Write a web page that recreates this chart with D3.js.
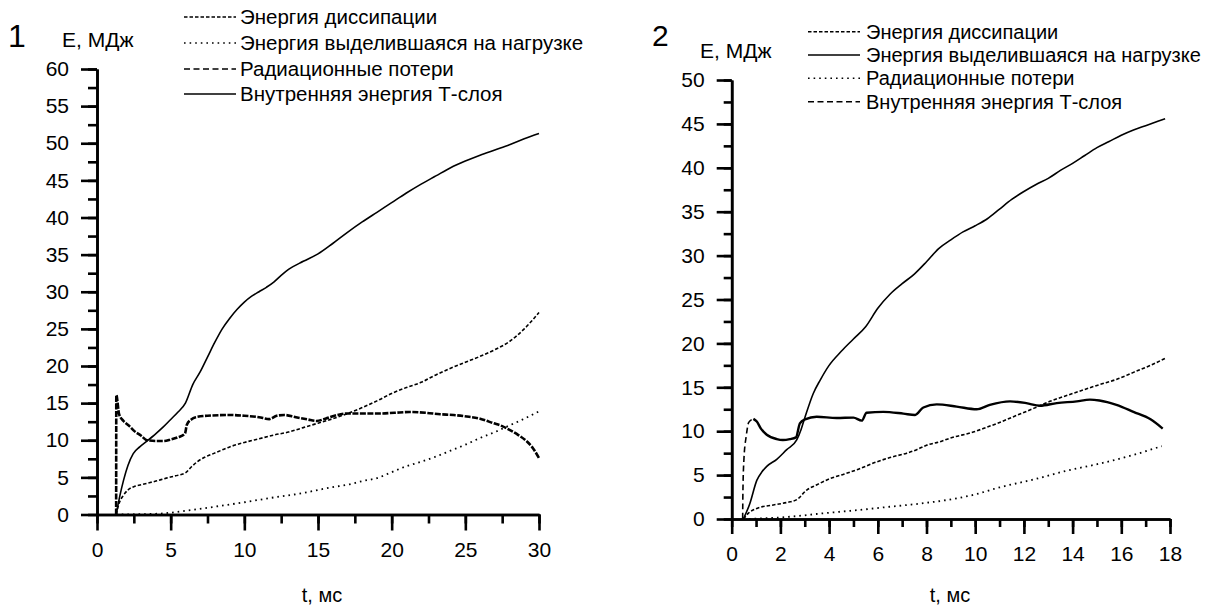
<!DOCTYPE html>
<html>
<head>
<meta charset="utf-8">
<script src="https://cdn.jsdelivr.net/npm/d3@7"></script>
<style>
  body { margin: 0; background: #fff; }
  svg { display: block; }
  text { font-family: "Liberation Sans", Arial, sans-serif; fill: #000; }
  .axis path, .axis line { stroke: #000; stroke-width: 2.6; }
  .axis text { font-size: 21px; }
</style>
</head>
<body>
<svg width="1210" height="608"></svg>
<script>
'use strict';

// ---- chart 1 data: [t, E] pairs
var p1Dissipation = [[1.3,0],[1.5,1.5],[1.8,2.6],[2.1,3.3],[2.5,3.75],[3.0,4.0],[3.4,4.2],[4.0,4.5],[4.7,4.9],[5.3,5.2],[6.0,5.6],[6.4,6.4],[6.8,7.1],[7.3,7.7],[7.9,8.2],[8.5,8.7],[9.0,9.1],[10,9.7],[11,10.2],[12,10.7],[13,11.1],[14,11.7],[15,12.3],[16,12.9],[17,13.6],[18,14.4],[19,15.3],[20,16.3],[21,17.1],[22,17.8],[23,18.8],[24,19.7],[25,20.5],[26,21.3],[27,22.2],[28,23.3],[29,25.0],[30,27.2]];
var p1Load = [[1.3,0],[3,0.05],[4.5,0.15],[6,0.5],[8,1.05],[10,1.65],[12,2.3],[14,2.9],[15,3.3],[16,3.7],[17,4.0],[18,4.5],[19,4.9],[20,5.7],[21,6.5],[22,7.1],[23,7.8],[24,8.6],[25,9.4],[26,10.3],[27,11.1],[28,12.0],[29,12.9],[30,13.9]];
var p1Radiation = [[1.3,0],[1.31,16.1],[1.5,13.5],[1.8,12.6],[2.2,11.9],[2.5,11.3],[3.0,10.6],[3.4,10.0],[4.0,9.9],[4.5,9.9],[5.0,10.1],[5.5,10.4],[5.97,10.9],[6.1,12.1],[6.4,12.8],[6.7,13.1],[7.5,13.3],[9,13.4],[10,13.3],[11,13.1],[11.7,12.85],[12.2,13.3],[12.7,13.4],[13.5,13.1],[14.3,12.8],[14.9,12.6],[15.5,12.9],[16.3,13.4],[17,13.6],[18,13.6],[19.2,13.6],[20.2,13.7],[21.2,13.8],[22.3,13.7],[23.3,13.5],[24.2,13.4],[25.1,13.2],[26,12.9],[26.9,12.3],[27.5,11.9],[28,11.4],[28.6,10.7],[29.2,9.8],[29.6,8.9],[30,7.6]];
var p1Internal = [[1.3,0],[1.55,2.5],[1.8,4.6],[2.1,6.6],[2.46,8.2],[2.9,9.1],[3.4,9.9],[4.0,10.9],[4.5,11.8],[5.0,12.8],[5.5,13.8],[6.0,15.0],[6.5,17.5],[7.0,19.2],[7.5,21.2],[8.0,23.2],[8.5,25.0],[9.0,26.4],[9.5,27.6],[10,28.6],[10.5,29.4],[11,30.0],[11.5,30.6],[12,31.3],[12.5,32.2],[13,33.0],[14,34.1],[15,35.1],[16,36.5],[17,38.0],[18,39.4],[19,40.7],[20,42.0],[21,43.3],[22,44.5],[23,45.6],[24,46.7],[25,47.6],[26,48.4],[27,49.1],[28,49.8],[29,50.6],[30,51.3]];

// ---- chart 2 data
var p2Dissipation = [[0.48,0],[0.7,0.7],[1.03,1.2],[1.71,1.6],[2.3,1.9],[2.67,2.2],[3.08,3.3],[3.5,3.9],[4.04,4.6],[4.6,5.1],[5.13,5.6],[5.95,6.5],[6.5,7.0],[7.19,7.5],[7.6,7.9],[8.0,8.4],[8.55,8.8],[8.96,9.2],[9.92,9.9],[10.33,10.3],[11,11.0],[11.7,11.8],[12.4,12.6],[13.07,13.4],[13.8,14.1],[14.44,14.7],[15.1,15.3],[15.8,15.9],[16.5,16.7],[17.2,17.5],[17.8,18.3]];
var p2Load = [[0.48,0],[0.75,1.8],[1.03,4.4],[1.25,5.4],[1.44,6.0],[1.85,6.8],[2.26,7.9],[2.67,9.0],[2.85,10.2],[3.0,11.5],[3.35,14.3],[3.63,15.8],[4.0,17.5],[4.5,19.1],[5.0,20.5],[5.5,21.9],[6.0,24.0],[6.5,25.6],[7.0,26.8],[7.5,27.9],[8.0,29.3],[8.5,30.8],[9.0,31.8],[9.5,32.7],[10,33.4],[10.5,34.2],[11,35.3],[11.5,36.4],[12,37.3],[12.5,38.1],[13,38.8],[13.5,39.7],[14,40.5],[14.5,41.4],[15,42.3],[15.5,43.0],[16,43.7],[16.5,44.3],[17,44.8],[17.5,45.3],[17.8,45.6]];
var p2Radiation = [[0.48,0],[1.5,0.1],[2.4,0.26],[3.76,0.65],[5.13,1.0],[6.5,1.4],[7.87,1.8],[9.24,2.35],[10,2.8],[11,3.6],[12.4,4.5],[13.76,5.5],[15.1,6.3],[16.5,7.3],[17.66,8.3]];
var p2Internal = [[0.45,0],[0.46,3],[0.5,6.7],[0.6,9.5],[0.7,11.0],[0.89,11.4],[1.03,11.1],[1.2,10.3],[1.44,9.6],[1.85,9.1],[2.1,9.0],[2.39,9.1],[2.64,9.3],[2.8,10.9],[3.01,11.35],[3.49,11.65],[4.31,11.5],[5.0,11.55],[5.34,11.2],[5.54,12.1],[6.23,12.2],[7.05,12.0],[7.53,11.85],[7.87,12.7],[8.42,13.05],[9.24,12.8],[10.06,12.5],[10.6,13.0],[11.43,13.4],[12.1,13.2],[12.66,12.9],[13.35,13.2],[14.17,13.4],[14.71,13.6],[15.1,13.5],[15.8,13.0],[16.5,12.2],[17.2,11.35],[17.7,10.3]];

var legendLabels = ['Энергия диссипации', 'Энергия выделившаяся на нагрузке', 'Радиационные потери', 'Внутренняя энергия Т-слоя'];
var yTicks1 = [0, 5, 10, 15, 20, 25, 30, 35, 40, 45, 50, 55, 60];
var xTicks1 = [0, 5, 10, 15, 20, 25, 30];
var yTicks2 = [0, 5, 10, 15, 20, 25, 30, 35, 40, 45, 50];
var xTicks2 = [0, 2, 4, 6, 8, 10, 12, 14, 16, 18];

// line styles
var styles = {
  fine:   { dash: '3.5,2', width: 1.6 },
  dot:    { dash: '1.6,4', width: 1.8 },
  dash:   { dash: '6,3.5', width: 1.6 },
  thick:  { dash: '6,1.5', width: 2.6 },
  solid:  { dash: null, width: 1.6 },
  solidT: { dash: null, width: 2.4 }
};

var svg = d3.select('svg');
svg.append('rect').attr('width', 1210).attr('height', 608).attr('fill', '#fff');

var panels = [
  {
    num: '1', numX: 8, numY: 47, numSize: 32,
    eX: 62, eY: 47, eSize: 21,
    tX: 322, tY: 602,
    xRange: [97, 539], yRange: [514.5, 69],
    xDomain: [0, 30], yDomain: [0, 60],
    xTicks: xTicks1, yTicks: yTicks1, xMinorStep: 2.5, yMinorStep: 2.5,
    major: 16, minor: 9,
    legend: { x0: 184, x1: 236, tx: 240, y: [17, 43, 69, 94], size: 20.5,
              keys: ['fine', 'dot', 'dash', 'solid'] },
    series: [
      { data: p1Dissipation, style: 'fine' },
      { data: p1Load, style: 'dot' },
      { data: p1Radiation, style: 'thick' },
      { data: p1Internal, style: 'solid' }
    ]
  },
  {
    num: '2', numX: 652, numY: 46, numSize: 30,
    eX: 700, eY: 58, eSize: 21,
    tX: 950, tY: 602,
    xRange: [731.7, 1170], yRange: [519, 80],
    xDomain: [0, 18], yDomain: [0, 50],
    xTicks: xTicks2, yTicks: yTicks2, xMinorStep: 1, yMinorStep: 2.5,
    major: 15, minor: 8,
    legend: { x0: 808, x1: 860, tx: 866, y: [31.7, 55, 78.3, 101.7], size: 20,
              keys: ['fine', 'solid', 'dot', 'dash'] },
    series: [
      { data: p2Dissipation, style: 'fine' },
      { data: p2Load, style: 'solid' },
      { data: p2Radiation, style: 'dot' },
      { data: p2Internal.filter(function(d) { return d[0] <= 0.9; }), style: 'dash' },
      { data: p2Internal.filter(function(d) { return d[0] >= 0.89; }), style: 'solidT' }
    ]
  }
];

panels.forEach(function(p) {
  var x = d3.scaleLinear().domain(p.xDomain).range(p.xRange);
  var y = d3.scaleLinear().domain(p.yDomain).range(p.yRange);
  var g = svg.append('g');

  // minor ticks
  var xMinor = d3.range(p.xDomain[0], p.xDomain[1] + 0.001, p.xMinorStep);
  var yMinor = d3.range(p.yDomain[0], p.yDomain[1] + 0.001, p.yMinorStep);
  g.append('g').attr('class', 'axis')
    .attr('transform', 'translate(0,' + p.yRange[0] + ')')
    .call(d3.axisBottom(x).tickValues(xMinor).tickSize(p.minor).tickSizeOuter(0).tickFormat(''));
  g.append('g').attr('class', 'axis')
    .attr('transform', 'translate(' + p.xRange[0] + ',0)')
    .call(d3.axisLeft(y).tickValues(yMinor).tickSize(p.minor).tickSizeOuter(0).tickFormat(''));

  // major ticks with labels
  g.append('g').attr('class', 'axis')
    .attr('transform', 'translate(0,' + p.yRange[0] + ')')
    .call(d3.axisBottom(x).tickValues(p.xTicks).tickSize(p.major).tickSizeOuter(0).tickPadding(12).tickFormat(d3.format('d')));
  g.append('g').attr('class', 'axis')
    .attr('transform', 'translate(' + p.xRange[0] + ',0)')
    .call(d3.axisLeft(y).tickValues(p.yTicks).tickSize(p.major).tickSizeOuter(0).tickPadding(12).tickFormat(d3.format('d')));
  g.selectAll('.axis text').attr('font-family', null).attr('font-size', null);

  // curves
  var line = d3.line()
    .x(function(d) { return x(d[0]); })
    .y(function(d) { return y(d[1]); })
    .curve(d3.curveMonotoneX);
  p.series.forEach(function(s) {
    var st = styles[s.style];
    g.append('path')
      .datum(s.data)
      .attr('d', line)
      .attr('fill', 'none')
      .attr('stroke', '#000')
      .attr('stroke-width', st.width)
      .attr('stroke-dasharray', st.dash);
  });

  // legend
  var lg = g.selectAll('.legend')
    .data(legendLabels)
    .enter().append('g')
    .attr('class', 'legend')
    .attr('transform', function(d, i) { return 'translate(0,' + p.legend.y[i] + ')'; });
  lg.append('line')
    .attr('x1', p.legend.x0).attr('x2', p.legend.x1)
    .attr('stroke', '#000')
    .attr('stroke-width', function(d, i) { return Math.min(styles[p.legend.keys[i]].width, 1.4); })
    .attr('stroke-dasharray', function(d, i) { return styles[p.legend.keys[i]].dash; });
  lg.append('text')
    .attr('x', p.legend.tx)
    .attr('dy', '0.35em')
    .style('font-size', p.legend.size + 'px')
    .text(function(d) { return d; });

  // titles
  g.append('text').attr('x', p.numX).attr('y', p.numY)
    .style('font-size', p.numSize + 'px').text(p.num);
  g.append('text').attr('x', p.eX).attr('y', p.eY)
    .style('font-size', p.eSize + 'px').text('Е, МДж');
  g.append('text').attr('x', p.tX).attr('y', p.tY)
    .attr('text-anchor', 'middle')
    .style('font-size', '20px').text('t, мс');
});
</script>
</body>
</html>
